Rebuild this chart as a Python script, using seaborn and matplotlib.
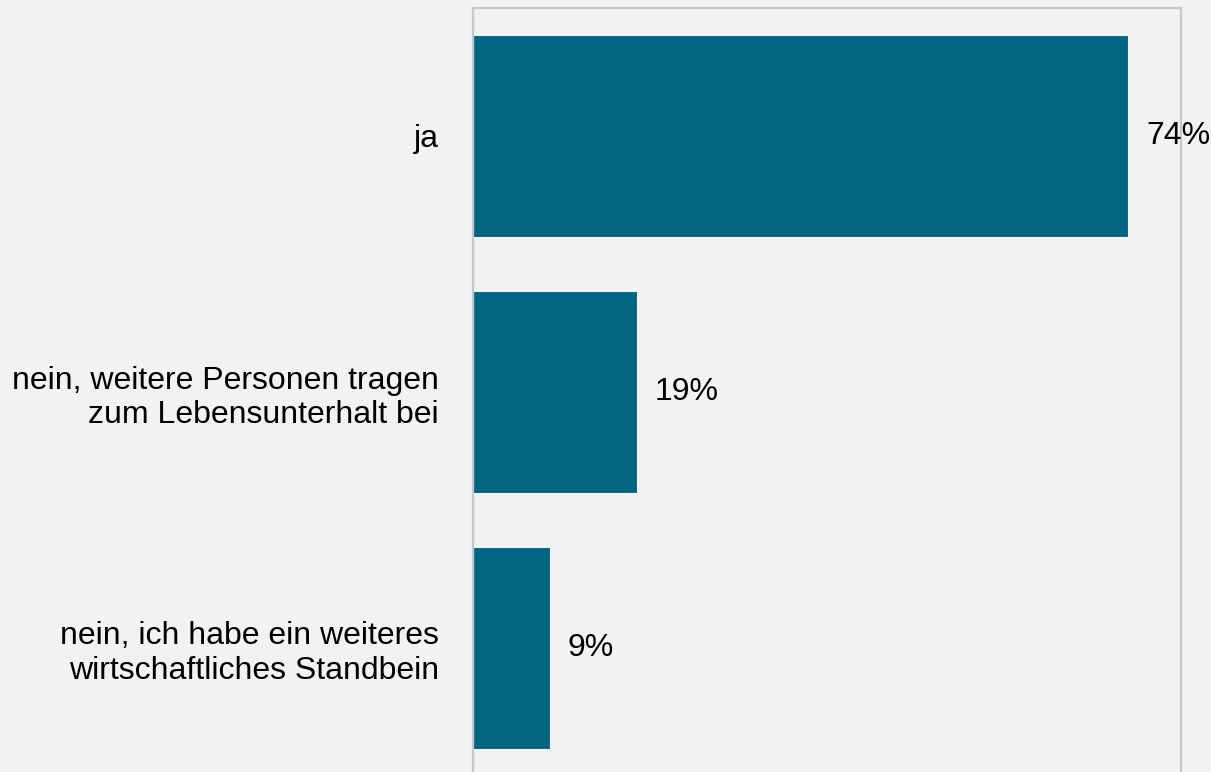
import pandas as pd
import matplotlib.pyplot as plt
import seaborn as sns

categories = ['ja',
              'nein, weitere Personen tragen\nzum Lebensunterhalt bei',
              'nein, ich habe ein weiteres\nwirtschaftliches Standbein']
values = [74.0, 18.5, 8.7]
value_labels = ['74%', '19%', '9%']

df = pd.DataFrame({'Antwort': categories, 'Anteil': values})

sns.set_style('white')
plt.rcParams['font.family'] = ['Liberation Sans', 'DejaVu Sans']

fig = plt.figure(figsize=(12.11, 7.72), dpi=100, facecolor='#F2F2F2')
ax = fig.add_axes([473 / 1211, -4 / 772, (1181 - 473) / 1211, 768 / 772])
ax.set_facecolor('#F2F2F2')

sns.barplot(x='Anteil', y='Antwort', data=df, color='#006682', width=0.79,
            saturation=1, edgecolor='#F2F2F2', linewidth=0.8, ax=ax)

ax.set_xlim(0, 80)
ax.set_ylim(2.5, -0.5)
ax.set_xticks([])
ax.set_xlabel('')
ax.set_ylabel('')
ax.tick_params(axis='y', length=0, pad=24.5, labelsize=23, labelcolor='black')
for lbl in ax.get_yticklabels():
    lbl.set_multialignment('right')

for s in ['left', 'right', 'top']:
    ax.spines[s].set_color('#C8C8C8')
    ax.spines[s].set_linewidth(1.6)
ax.spines['bottom'].set_visible(False)

for i, (v, t) in enumerate(zip(values, value_labels)):
    ax.annotate(t, (v, i), xytext=(18, 0), textcoords='offset pixels',
                va='center', ha='left', fontsize=23, color='black',
                annotation_clip=False)

fig.savefig('out.png', dpi=100, facecolor=fig.get_facecolor())
